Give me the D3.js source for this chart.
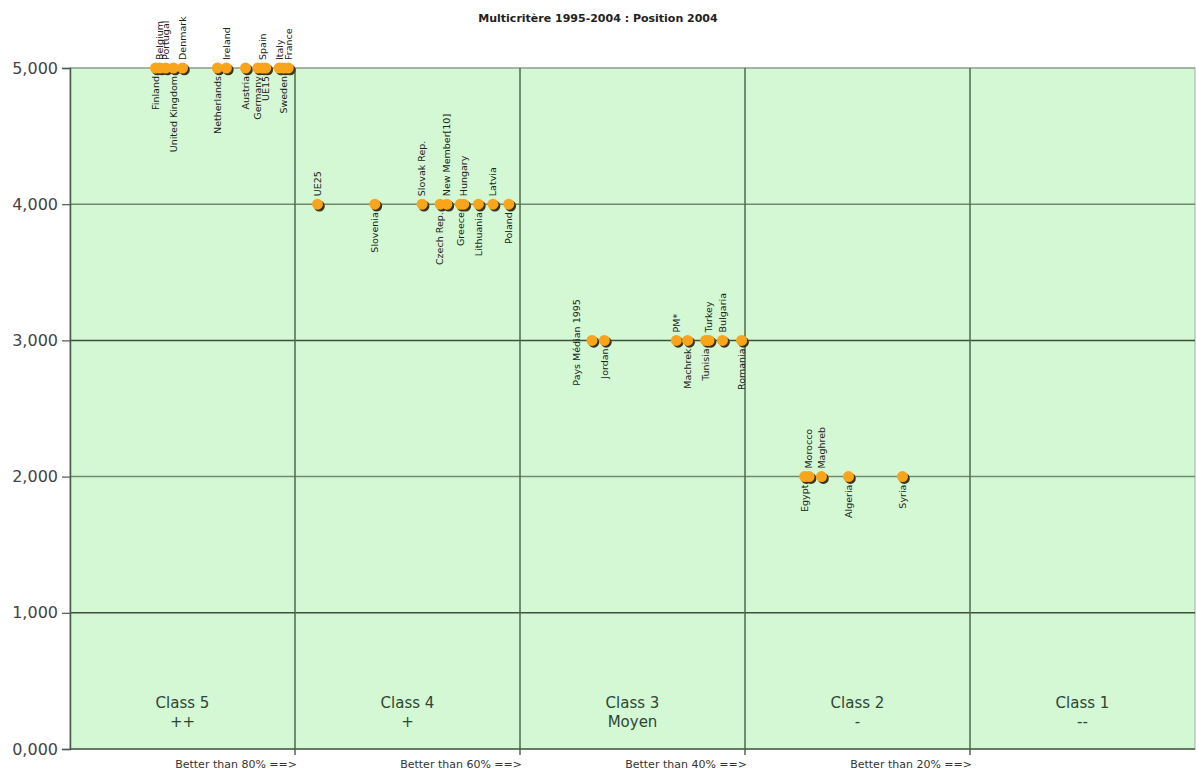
<!DOCTYPE html>
<html lang="fr">
<head>
    <meta charset="utf-8" />
    <script src="https://d3js.org/d3.v7.min.js"></script>
    <title>Multicritère 1995-2004</title>
    <style>
        body { margin: 0; background: #fff; }
        * { font-family: 'DejaVu Sans', Verdana, sans-serif; }
    </style>
</head>
<body>
    <div id="chart"></div>
    <script>
        // country names, score in % (x), class level (y), label side
        var names = ["Finland", "Belgium", "Portugal", "United Kingdom", "Denmark", "Netherlands", "Ireland", "Austria",
            "Germany", "Spain", "UE15", "Italy", "Sweden", "France",
            "UE25", "Slovenia", "Slovak Rep.", "Czech Rep.", "New Member[10]", "Greece", "Hungary", "Lithuania", "Latvia", "Poland",
            "Pays Médian 1995", "Jordan", "PM*", "Machrek", "Tunisia", "Turkey", "Bulgaria", "Romania",
            "Egypt", "Morocco", "Maghreb", "Algeria", "Syria"];
        var scores = [92.4, 92.0, 91.5, 90.8, 90.0, 86.9, 86.1, 84.4,
            83.3, 82.9, 82.6, 81.4, 81.0, 80.6,
            78.0, 72.9, 68.7, 67.1, 66.5, 65.3, 65.0, 63.7, 62.4, 61.0,
            53.6, 52.5, 46.1, 45.1, 43.5, 43.2, 42.0, 40.3,
            34.7, 34.3, 33.2, 30.8, 26.0];
        var levels = [5000, 5000, 5000, 5000, 5000, 5000, 5000, 5000,
            5000, 5000, 5000, 5000, 5000, 5000,
            4000, 4000, 4000, 4000, 4000, 4000, 4000, 4000, 4000, 4000,
            3000, 3000, 3000, 3000, 3000, 3000, 3000, 3000,
            2000, 2000, 2000, 2000, 2000];
        var labelSide = ["below", "above", "above", "below", "above", "below", "above", "below",
            "below", "above", "below", "above", "below", "above",
            "above", "below", "above", "below", "above", "below", "above", "below", "above", "below",
            "left", "below", "above", "below", "below", "above", "above", "below",
            "below", "above", "above", "below", "below"];

        var yTicks = [0, 1000, 2000, 3000, 4000, 5000];
        var yTickLabels = ["0,000", "1,000", "2,000", "3,000", "4,000", "5,000"];
        var xBounds = [100, 80, 60, 40, 20, 0];
        var classNames = ["Class 5", "Class 4", "Class 3", "Class 2", "Class 1"];
        var classSigns = ["++", "+", "Moyen", "-", "--"];
        var thresholdLabels = ["Better than 80% ==>", "Better than 60% ==>", "Better than 40% ==>", "Better than 20% ==>"];

        (function () {
            var width = 1196, height = 771;
            var pLeft = 70, pRight = 1195, pTop = 68, pBottom = 749;

            var svg = d3.select("#chart")
                .append("svg")
                .attr("width", width)
                .attr("height", height);

            var x = d3.scaleLinear().domain([100, 0]).range([pLeft, pRight]);
            var y = d3.scaleLinear().domain([0, 5000]).range([pBottom, pTop]);

            // plot background
            svg.append("rect")
                .attr("x", pLeft).attr("y", pTop)
                .attr("width", pRight - pLeft).attr("height", pBottom - pTop)
                .attr("fill", "#d3f8d3")
                .attr("stroke", "#9cb09c");

            // title
            svg.append("text")
                .attr("x", 598).attr("y", 22)
                .attr("text-anchor", "middle")
                .style("font-size", "11px").style("font-weight", "bold")
                .attr("fill", "#222")
                .text("Multicritère 1995-2004 : Position 2004");

            // horizontal grid
            svg.selectAll("line.hgrid")
                .data(yTicks.slice(1))
                .enter().append("line")
                .attr("class", "hgrid")
                .attr("x1", pLeft).attr("x2", pRight)
                .attr("y1", function(d) { return y(d); })
                .attr("y2", function(d) { return y(d); })
                .attr("stroke", function(d) {
                    if (d === 5000) return "#9aaa9a";
                    return d % 2000 === 0 ? "#6f8a6f" : "#3f4f3f";
                })
                .attr("stroke-width", 1.5);

            // vertical class separators
            svg.selectAll("line.vgrid")
                .data(xBounds.slice(1, 5))
                .enter().append("line")
                .attr("class", "vgrid")
                .attr("x1", function(d) { return x(d); })
                .attr("x2", function(d) { return x(d); })
                .attr("y1", pTop).attr("y2", pBottom + 6)
                .attr("stroke", "#4f6a4f")
                .attr("stroke-width", 1.5);

            // y axis
            var yAxis = d3.axisLeft(y)
                .tickValues(yTicks)
                .tickSize(8)
                .tickFormat(function(d, i) { return yTickLabels[i]; });
            var gy = svg.append("g")
                .attr("transform", "translate(" + pLeft + ",0)")
                .call(yAxis);
            gy.select(".domain").attr("stroke", "#4a5a4a").attr("stroke-width", 1.5);
            gy.selectAll(".tick line").attr("stroke", "#4a5a4a").attr("stroke-width", 1.2);
            gy.selectAll(".tick text")
                .attr("x", -12)
                .style("font-size", "16px")
                .attr("fill", "#444");

            // bottom axis line
            svg.append("line")
                .attr("x1", pLeft).attr("x2", pRight)
                .attr("y1", pBottom).attr("y2", pBottom)
                .attr("stroke", "#4a5a4a").attr("stroke-width", 1.5);

            // threshold labels below the axis
            svg.selectAll("text.thr")
                .data(thresholdLabels)
                .enter().append("text")
                .attr("class", "thr")
                .attr("x", function(d, i) { return x(xBounds[i + 1]) + 2; })
                .attr("y", 768)
                .attr("text-anchor", "end")
                .style("font-size", "11px")
                .attr("fill", "#333")
                .text(function(d) { return d; });

            // class labels
            var cls = svg.selectAll("g.cls")
                .data(classNames)
                .enter().append("g")
                .attr("class", "cls")
                .attr("transform", function(d, i) {
                    return "translate(" + x((xBounds[i] + xBounds[i + 1]) / 2) + ",0)";
                });
            cls.append("text")
                .attr("y", 708)
                .attr("text-anchor", "middle")
                .style("font-size", "15px")
                .attr("fill", "#2f4536")
                .text(function(d) { return d; });
            cls.append("text")
                .attr("y", 727)
                .attr("text-anchor", "middle")
                .style("font-size", "15px")
                .attr("fill", "#2f4536")
                .text(function(d, i) { return classSigns[i]; });

            var data = names.map(function(n, i) {
                return { name: n, score: scores[i], level: levels[i], side: labelSide[i] };
            });

            // dot shadows then dots
            svg.selectAll("circle.shadow")
                .data(data)
                .enter().append("circle")
                .attr("class", "shadow")
                .attr("cx", function(d) { return x(d.score) + 1.8; })
                .attr("cy", function(d) { return y(d.level) + 1.8; })
                .attr("r", 5.5)
                .attr("fill", "#3b3420");

            svg.selectAll("circle.dot")
                .data(data)
                .enter().append("circle")
                .attr("class", "dot")
                .attr("cx", function(d) { return x(d.score); })
                .attr("cy", function(d) { return y(d.level); })
                .attr("r", 5.5)
                .attr("fill", "#f8a51c");

            // rotated labels
            svg.selectAll("text.lbl")
                .data(data)
                .enter().append("text")
                .attr("class", "lbl")
                .attr("transform", function(d) {
                    var dx = d.side === "left" ? -15 : 0;
                    return "translate(" + (x(d.score) + dx) + "," + y(d.level) + ") rotate(-90)";
                })
                .attr("x", function(d) {
                    if (d.side === "above") return 8;
                    if (d.side === "below") return -8;
                    return -2;
                })
                .attr("dy", "0.35em")
                .attr("text-anchor", function(d) {
                    if (d.side === "above") return "start";
                    if (d.side === "below") return "end";
                    return "middle";
                })
                .style("font-size", "9.5px")
                .attr("fill", "#222")
                .text(function(d) { return d.name; });
        })();
    </script>
</body>
</html>
